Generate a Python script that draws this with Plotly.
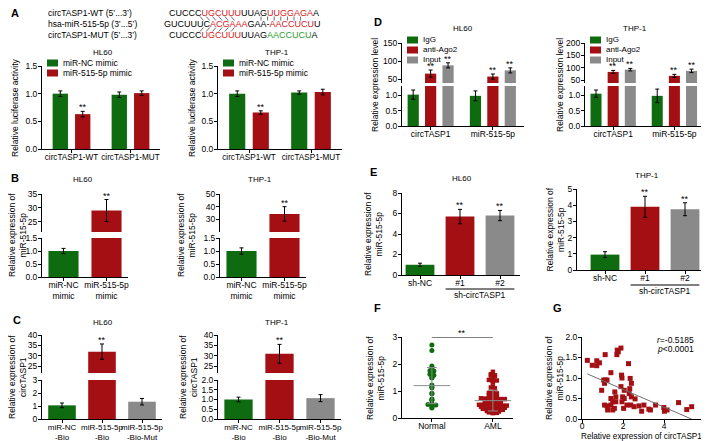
import numpy as np
import plotly.graph_objects as go

# page body has an 8px margin, so the figure is shifted by that much
OX, OY = 8, 8
W, H = 701, 433
GREEN = '#0e6b10'
RED = '#a30f12'
GRAY = '#8a8a8a'
SEQ_RED = '#d42020'
SEQ_GREEN = '#2a9a2a'
FONT = 'Liberation Sans, Arial, sans-serif'

# ---- A: dual luciferase
a_groups = ['circTASP1-WT', 'circTASP1-MUT']
a_series = ['miR-NC mimic', 'miR-515-5p mimic']
a_hl60_nc = [1.00, 0.98]
a_hl60_nc_err = [0.05, 0.05]
a_hl60_mimic = [0.63, 1.01]
a_hl60_mimic_err = [0.05, 0.04]
a_thp1_nc = [1.00, 1.02]
a_thp1_nc_err = [0.05, 0.03]
a_thp1_mimic = [0.66, 1.03]
a_thp1_mimic_err = [0.03, 0.05]

# ---- B: miR-515-5p after mimic
b_labels = ['miR-NC<br>mimic', 'miR-515-5p<br>mimic']
b_hl60 = [1.0, 29.0]
b_hl60_err = [0.1, 4.0]
b_thp1 = [1.0, 34.3]
b_thp1_err = [0.12, 5.7]

# ---- C: biotin pull-down
c_labels = ['miR-NC<br>-Bio', 'miR-515-5p<br>-Bio', 'miR-515-5p<br>-Bio-Mut']
c_hl60 = [1.05, 32.0, 1.33]
c_hl60_err = [0.18, 3.7, 0.25]
c_thp1 = [1.0, 31.0, 1.07]
c_thp1_err = [0.12, 4.5, 0.18]

# ---- D: RIP
d_groups = ['circTASP1', 'miR-515-5p']
d_series = ['IgG', 'anti-Ago2', 'Input']
d_hl60_igg = [1.02, 0.98]
d_hl60_igg_err = [0.15, 0.16]
d_hl60_ago2 = [65, 57]
d_hl60_ago2_err = [10, 7]
d_hl60_input = [88, 74]
d_hl60_input_err = [7, 7]
d_thp1_igg = [1.05, 0.98]
d_thp1_igg_err = [0.12, 0.22]
d_thp1_ago2 = [83, 67]
d_thp1_ago2_err = [6, 6]
d_thp1_input = [92, 87]
d_thp1_input_err = [5, 7]

# ---- E: knockdown
e_labels = ['sh-NC', '#1', '#2']
e_hl60 = [1.0, 5.7, 5.8]
e_hl60_err = [0.15, 0.7, 0.5]
e_thp1 = [0.95, 3.9, 3.75]
e_thp1_err = [0.18, 0.65, 0.4]

# ---- F: patient samples
f_groups = ['Normal', 'AML']
f_normal = [2.7, 2.5, 1.93, 1.87, 1.75, 1.74, 1.62, 1.58, 1.5, 1.48, 1.22, 1.15,
            1.12, 0.92, 0.9, 0.7, 0.68, 0.66, 0.52, 0.5, 0.48, 0.48, 0.4, 0.37]
f_aml = [1.71, 1.62, 1.58, 1.57, 1.56, 1.42, 1.41, 1.40, 1.39, 1.38, 1.31, 1.15,
         1.13, 1.10, 0.93, 0.92, 0.91, 0.86, 0.85, 0.84, 0.83, 0.80, 0.79,
         0.73, 0.72, 0.72, 0.71, 0.71, 0.70, 0.70, 0.69,
         0.63, 0.62, 0.62, 0.61, 0.61, 0.60, 0.60, 0.59,
         0.55, 0.55, 0.54, 0.54, 0.53, 0.53, 0.52, 0.52, 0.51,
         0.49, 0.49, 0.48, 0.48, 0.47, 0.47, 0.46, 0.46, 0.45,
         0.44, 0.43, 0.43, 0.42, 0.42, 0.41, 0.41, 0.40, 0.40,
         0.38, 0.37, 0.37, 0.36, 0.36, 0.35, 0.35, 0.34,
         0.32, 0.31, 0.31, 0.30, 0.30, 0.29, 0.29,
         0.27, 0.26, 0.25, 0.25, 0.24,
         0.21, 0.20, 0.19, 0.18]

# ---- G: correlation
g_circ = [0.26, 0.50, 0.72, 0.72, 0.85, 1.13, 0.96, 1.06, 1.14, 1.22, 1.10, 1.10,
          1.22, 1.25, 1.41, 1.41, 1.41, 1.50, 1.50, 1.58, 1.60, 1.65, 1.65, 1.70,
          1.77, 1.72, 1.90, 1.90, 1.93, 1.95, 1.98, 1.95, 2.06, 2.03, 2.06, 2.19,
          2.27, 2.30, 2.33, 2.35, 2.41, 2.41, 2.38, 2.54, 2.59, 2.78, 2.91, 3.02,
          3.26, 3.34, 3.59, 3.99, 4.02, 4.15, 4.71, 5.11, 5.35]
g_mir = [1.43, 1.31, 1.42, 1.30, 1.37, 1.57, 0.70, 0.95, 0.95, 0.95, 0.87, 0.34,
         0.32, 0.22, 1.13, 0.50, 0.34, 0.42, 0.22, 0.26, 0.66, 0.54, 0.42, 1.57,
         1.64, 1.68, 1.73, 0.79, 1.07, 1.00, 0.54, 0.42, 0.50, 0.26, 0.70, 0.34,
         1.35, 0.62, 0.74, 0.99, 0.87, 0.54, 0.34, 0.30, 0.49, 0.32, 0.19, 0.34,
         0.24, 0.22, 0.34, 0.28, 0.19, 0.22, 0.40, 0.23, 0.30]

fig = go.Figure()
lay = {}
annots = []
shapes = []
n_ax = [0]


def fx(px):
    return (px - OX) / W


def fy(py):
    return 1 - (py - OY) / H


def axes(x0, x1, y0, y1, xr, yr, yticks, ytext=None, xticks=None, xtext=None,
         show_x=True, xfont=8.5, xstand=-3):
    n_ax[0] += 1
    s = '' if n_ax[0] == 1 else str(n_ax[0])
    base = dict(ticks='outside', ticklen=3, tickwidth=1, tickcolor='black',
                showline=True, linecolor='black', linewidth=1, showgrid=False,
                zeroline=False, fixedrange=True, automargin=False, tickangle=0,
                ticklabeloverflow='allow')
    xa = dict(base, domain=[fx(x0), fx(x1)], range=xr, anchor='y' + s,
              ticklabelstandoff=xstand, tickfont=dict(size=xfont, color='black', family=FONT))
    if show_x:
        if xticks is not None:
            xa.update(tickmode='array', tickvals=xticks, ticktext=xtext)
    else:
        xa.update(visible=False)
    ya = dict(base, domain=[fy(y1), fy(y0)], range=yr, anchor='x' + s,
              tickmode='array', tickvals=yticks, ticklabelstandoff=-1,
              ticktext=ytext or [str(t) for t in yticks],
              tickfont=dict(size=8.5, color='black', family=FONT))
    lay['xaxis' + s] = xa
    lay['yaxis' + s] = ya
    return 'x' + s, 'y' + s


def text(x, y, s, size=8.5, anchor='center', angle=0):
    annots.append(dict(x=fx(x), y=fy(y), xref='paper', yref='paper', text=s,
                       showarrow=False, xanchor=anchor, yanchor='middle',
                       textangle=angle, font=dict(size=size, color='black', family=FONT)))


def line(x0, y0, x1, y1, color='#444', w=0.8):
    shapes.append(dict(type='line', xref='paper', yref='paper', x0=fx(x0), y0=fy(y0),
                       x1=fx(x1), y1=fy(y1), line=dict(color=color, width=w)))


def bars(ax, xs, vals, errs, colors, width, offset=None):
    fig.add_trace(go.Bar(x=xs, y=vals, width=width, offset=offset,
                         marker=dict(color=colors, line=dict(width=0)),
                         error_y=dict(type='data', array=errs, color='black', thickness=1, width=2),
                         xaxis=ax[0], yaxis=ax[1], showlegend=False, hoverinfo='skip'))


def stars(ax, xs, vals, errs):
    for x, v, e in zip(xs, vals, errs):
        annots.append(dict(x=x, y=v + e, xref=ax[0], yref=ax[1], text='**', showarrow=False,
                           yanchor='bottom', yshift=-3,
                           font=dict(size=9, color='black', family=FONT)))


def legend(x, y, names, colors, gap=10, size=8.5):
    for i, (nm, c) in enumerate(zip(names, colors)):
        yc = y + i * gap
        shapes.append(dict(type='rect', xref='paper', yref='paper', x0=fx(x), x1=fx(x + 11),
                           y0=fy(yc + 3.5), y1=fy(yc - 3.5), fillcolor=c, line=dict(width=0)))
        text(x + 14, yc, nm, size, 'left')


def broken(x0, x1, top, mtop, mbot, bot, xr, up_r, up_t, lo_r, lo_t, lo_txt, labels, xfont=8.5):
    up = axes(x0, x1, top, mtop, xr, up_r, up_t, show_x=False)
    lo = axes(x0, x1, mbot, bot, xr, lo_r, lo_t, lo_txt, list(range(len(labels))), labels,
              xfont=xfont)
    return up, lo


# ---------------- panel letters
for letter, x, y in [('A', 15, 13), ('B', 15, 178), ('C', 17, 320), ('D', 378, 22),
                     ('E', 373, 172), ('F', 378, 308), ('G', 557, 308)]:
    text(x, y, '<b>%s</b>' % letter, 11)

# ---------------- A: sequences
def red(s):
    return "<span style='color:%s'>%s</span>" % (SEQ_RED, s)


def grn(s):
    return "<span style='color:%s'>%s</span>" % (SEQ_GREEN, s)


text(46, 13, 'circTASP1-WT (5’...3’)', 8.5, 'left')
text(46, 24, 'hsa-miR-515-5p (3’...5’)', 8.5, 'left')
text(46, 35, 'circTASP1-MUT (5’...3’)', 8.5, 'left')
text(167, 13, 'CUCCC' + red('UGCUUU') + 'UUAG' + red('UUGGAGA') + 'A', 9, 'left')
text(162, 24, 'GUCUUUC' + red('ACGAAA') + 'GAA-' + red('AACCUCU') + 'U', 9, 'left')
text(167, 35, 'CUCCC' + red('UGCUUU') + 'UUAG' + grn('AACCUCU') + 'A', 9, 'left')
for i in range(6):
    x = 200 + i * 6.2
    line(x, 16.5, x + 3.5, 20.5)
    line(x + 3.5, 27.5, x, 31.5)
for i in range(7):
    x = 261 + i * 6.6
    line(x, 16.5, x, 20.5)

# ---------------- A: bar charts
A_W, A_OFF = 0.26, [-0.32, 0.06]
for x0, x1, ttl_x, ylab_x, nc, nce, mi, mie in [
        (42, 160, 103, 15, a_hl60_nc, a_hl60_nc_err, a_hl60_mimic, a_hl60_mimic_err),
        (218, 342, 277, 192, a_thp1_nc, a_thp1_nc_err, a_thp1_mimic, a_thp1_mimic_err)]:
    ax = axes(x0, x1, 66, 149, [-0.5, 1.5], [0, 1.5], [0, 0.5, 1.0, 1.5],
              ['0.0', '0.5', '1.0', '1.5'], [0, 1], a_groups, xfont=8.2)
    bars(ax, [0, 1], nc, nce, GREEN, A_W, A_OFF[0])
    bars(ax, [0, 1], mi, mie, RED, A_W, A_OFF[1])
    stars(ax, [0 + A_OFF[1] + A_W / 2], mi[:1], mie[:1])
    text(ttl_x, 53, 'HL60' if x0 < 100 else 'THP-1', 8)
    text(ylab_x, 108, 'Relative luciferase activity', 8.5, angle=-90)
    legend(x0 + 5, 63, a_series, [GREEN, RED])

# ---------------- B
for x0, x1, ttl_x, ylab_x, up_r, up_t, vals, errs in [
        (42, 128, 83, 17, [21.2, 35], [25, 30, 35], b_hl60, b_hl60_err),
        (220, 306, 260, 186, [20, 50], [30, 40, 50], b_thp1, b_thp1_err)]:
    up, lo = broken(x0, x1, 194, 232, 238, 277, [-0.5, 1.5], up_r, up_t,
                    [0, 1.5], [0, 0.5, 1.0, 1.5], ['0.0', '0.5', '1.0', '1.5'], b_labels)
    for ax in (up, lo):
        bars(ax, [0, 1], vals, errs, [GREEN, RED], 0.7)
    stars(up, [1], vals[1:], errs[1:])
    text(ttl_x, 180, 'HL60' if x0 < 100 else 'THP-1', 8)
    text(ylab_x, 235, 'Relative expression of<br>miR-515-5p', 8.5, angle=-90)

# ---------------- C
for x0, x1, ttl_x, ylab_x, lo_r, lo_t, lo_txt, vals, errs in [
        (42, 162, 103, 17, [0, 3], [0, 1, 2, 3], None, c_hl60, c_hl60_err),
        (218, 341, 277, 188, [0, 2], [0, 0.5, 1.0, 1.5, 2.0],
         ['0.0', '0.5', '1.0', '1.5', '2.0'], c_thp1, c_thp1_err)]:
    up, lo = broken(x0, x1, 335, 373, 380, 419, [-0.5, 2.5], [21.8, 40], [25, 30, 35, 40],
                    lo_r, lo_t, lo_txt, c_labels, xfont=8)
    for ax in (up, lo):
        bars(ax, [0, 1, 2], vals, errs, [GREEN, RED, GRAY], 0.69)
    stars(up, [1], vals[1:2], errs[1:2])
    text(ttl_x, 322, 'HL60' if x0 < 100 else 'THP-1', 8)
    text(ylab_x, 377, 'Relative expression of<br>circTASP1', 8.5, angle=-90)

# ---------------- D
D_W, D_OFF = 0.18, [-0.37, -0.09, 0.19]
D_COL = [GREEN, RED, GRAY]
for x0, x1, ttl_x, ylab_x, up_r, up_t, series in [
        (402, 524, 463, 375, [39, 150], [50, 100, 150],
         [(d_hl60_igg, d_hl60_igg_err), (d_hl60_ago2, d_hl60_ago2_err), (d_hl60_input, d_hl60_input_err)]),
        (585, 705, 635, 560, [38, 200], [50, 100, 150, 200],
         [(d_thp1_igg, d_thp1_igg_err), (d_thp1_ago2, d_thp1_ago2_err), (d_thp1_input, d_thp1_input_err)])]:
    up, lo = broken(x0, x1, 43, 83, 86, 126, [-0.46, 1.5], up_r, up_t,
                    [0, 1.3], [0, 0.5, 1.0], ['0.0', '0.5', '1.0'], d_groups)
    for k, (vals, errs) in enumerate(series):
        for ax in (up, lo):
            bars(ax, [0, 1], vals, errs, D_COL[k], D_W, D_OFF[k])
        if k > 0:
            stars(up, [g + D_OFF[k] + D_W / 2 for g in (0, 1)], vals, errs)
    text(ttl_x, 28, 'HL60' if x0 < 450 else 'THP-1', 8)
    text(ylab_x, 85, 'Relative expression level', 8.5, angle=-90)
    legend(x0 + 5, 40, d_series, D_COL, size=8)

# ---------------- E
for x0, x1, top, bot, xr, yr, yt, ttl_x, ttl_y, ylab_x, br_y, vals, errs in [
        (402, 520, 193, 275, [-0.45, 2.5], [0, 8], [0, 2, 4, 6, 8], 462, 178, 373, 289, e_hl60, e_hl60_err),
        (577, 705, 189, 270, [-0.7, 2.5], [0, 5], [0, 1, 2, 3, 4, 5], 647, 175, 555, 285, e_thp1, e_thp1_err)]:
    ax = axes(x0, x1, top, bot, xr, yr, yt, None, [0, 1, 2], e_labels)
    bars(ax, [0, 1, 2], vals, errs, [GREEN, RED, GRAY], 0.72)
    stars(ax, [1, 2], vals[1:], errs[1:])
    shapes.append(dict(type='line', xref=ax[0], yref='paper', x0=1 - 0.36, x1=2 + 0.36,
                       y0=fy(br_y), y1=fy(br_y), line=dict(color='black', width=1)))
    annots.append(dict(x=1.5, y=fy(br_y + 6), xref=ax[0], yref='paper', text='sh-circTASP1',
                       showarrow=False, font=dict(size=8.5, color='black', family=FONT)))
    text(ttl_x, ttl_y, 'HL60' if x0 < 450 else 'THP-1', 8)
    text(ylab_x, (top + bot) / 2, 'Relative expression of<br>miR-515-5p', 8.5, angle=-90)


# ---------------- F
def swarm(vals, binw, step):
    vals = np.asarray(vals)
    bins = np.round(vals / binw).astype(int)
    off = np.zeros(len(vals))
    for b in np.unique(bins):
        idx = np.where(bins == b)[0]
        off[idx] = (np.arange(len(idx)) - (len(idx) - 1) / 2) * step
    return off


axf = axes(402, 513, 337, 418, [-0.49, 1.33], [0, 3], [0, 1, 2, 3], None, [0, 1], f_groups)
for gi, vals, col, sym, size in [(0, f_normal, GREEN, 'circle', 5), (1, f_aml, RED, 'square', 4.5)]:
    fig.add_trace(go.Scatter(x=gi + swarm(vals, 0.04, 0.065), y=vals, mode='markers',
                             marker=dict(color=col, symbol=sym, size=size, line=dict(width=0)),
                             xaxis=axf[0], yaxis=axf[1], showlegend=False, hoverinfo='skip'))
    m, sd = np.mean(vals), np.std(vals, ddof=1)
    fig.add_trace(go.Scatter(
        x=[gi - 0.3, gi + 0.3, None, gi, gi, None, gi - 0.08, gi + 0.08, None, gi - 0.08, gi + 0.08],
        y=[m, m, None, m - sd, m + sd, None, m + sd, m + sd, None, m - sd, m - sd],
        mode='lines', line=dict(color='#8c8c8c', width=1), xaxis=axf[0], yaxis=axf[1],
        showlegend=False, hoverinfo='skip'))
shapes.append(dict(type='line', xref=axf[0], yref=axf[1], x0=0, x1=1, y0=3, y1=3,
                   line=dict(color='black', width=1)))
annots.append(dict(x=0.5, y=3, xref=axf[0], yref=axf[1], text='**', showarrow=False,
                   yanchor='bottom', yshift=-3, font=dict(size=9, color='black', family=FONT)))
text(375, 378, 'Relative expression of<br>miR-515-5p', 8.5, angle=-90)

# ---------------- G
axg = axes(582, 705, 337, 419, [0, 6], [0, 2], [0, 0.5, 1, 1.5, 2],
           ['0.0', '0.5', '1.0', '1.5', '2.0'], [0, 2, 4, 6], ['0', '2', '4', '6'], xstand=-4)
fig.add_trace(go.Scatter(x=g_circ, y=g_mir, mode='markers',
                         marker=dict(color=RED, symbol='square', size=5, line=dict(width=0)),
                         xaxis=axg[0], yaxis=axg[1], showlegend=False, hoverinfo='skip'))
slope, icpt = np.polyfit(g_circ, g_mir, 1)
x_end = min(-icpt / slope, 6)
fig.add_trace(go.Scatter(x=[min(g_circ), x_end], y=[icpt + slope * min(g_circ), icpt + slope * x_end],
                         mode='lines', line=dict(color='#6e6e6e', width=1),
                         xaxis=axg[0], yaxis=axg[1], showlegend=False, hoverinfo='skip'))
text(655, 340, '<i>r</i>=-0.5185', 8.5, 'left')
text(655, 349, '<i>p</i>&lt;0.0001', 8.5, 'left')
text(554, 378, 'Relative expression of<br>miR-515-5p', 8.5, angle=-90)
text(641, 436, 'Relative expression of circTASP1', 8.2)

fig.update_layout(width=W, height=H, margin=dict(l=0, r=0, t=0, b=0),
                  paper_bgcolor='white', plot_bgcolor='white', barmode='overlay',
                  showlegend=False, font=dict(family=FONT, size=9, color='black'),
                  annotations=annots, shapes=shapes, **lay)
fig.write_html('out.html')
